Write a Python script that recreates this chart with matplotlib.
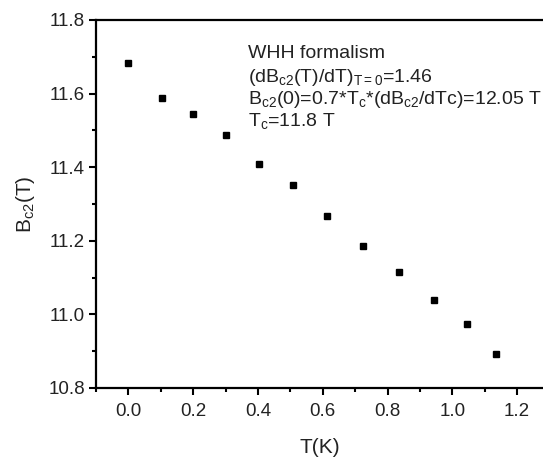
import matplotlib
matplotlib.use("Agg")
import matplotlib.pyplot as plt
from matplotlib.ticker import MultipleLocator

plt.rcParams['font.family'] = ['Liberation Sans', 'DejaVu Sans']
plt.rcParams['mathtext.fontset'] = 'custom'
plt.rcParams['mathtext.rm'] = 'Liberation Sans'
plt.rcParams['mathtext.it'] = 'Liberation Sans'

T_values = [0.0, 0.105, 0.201, 0.300, 0.403, 0.507, 0.613, 0.724, 0.834, 0.944, 1.046, 1.136]
Bc2_values = [11.684, 11.587, 11.544, 11.488, 11.408, 11.352, 11.267, 11.187, 11.115, 11.039, 10.975, 10.892]
x_ticks = [0.0, 0.2, 0.4, 0.6, 0.8, 1.0, 1.2]
y_ticks = [10.8, 11.0, 11.2, 11.4, 11.6, 11.8]

fig = plt.figure(figsize=(5.43, 4.58), dpi=100)
ax = fig.add_axes([96/543, 1-388/458, 1-96/543, (388-20)/458])

ax.plot(T_values, Bc2_values, linestyle='none', marker='s', markersize=5, color='black')

ax.set_xlim(-0.1, 1.28)
ax.set_ylim(10.8, 11.8)
ax.set_xticks(x_ticks)
ax.set_xticklabels([f"{v:.1f}" for v in x_ticks])
ax.set_yticks(y_ticks)
ax.set_yticklabels([f"{v:.1f}" for v in y_ticks])
ax.xaxis.set_minor_locator(MultipleLocator(0.1))
ax.yaxis.set_minor_locator(MultipleLocator(0.1))
ax.tick_params(which='major', direction='out', length=5, width=1.5, labelsize=13.5, colors='black', labelcolor='#222222')
ax.tick_params(which='minor', direction='out', length=3, width=1.5)
ax.tick_params(axis='x', pad=6)
ax.tick_params(axis='y', pad=3)

for s in ['left', 'bottom', 'top']:
    ax.spines[s].set_linewidth(1.6)
ax.spines['right'].set_visible(False)

ax.set_xlabel('T(K)', fontsize=15, color='#222222', labelpad=13)
ax.set_ylabel(r'B$_{\mathrm{c2}}$(T)', fontsize=15, color='#222222', labelpad=8)

lines = [
    'WHH formalism',
    r'(dB$_{\mathrm{c2}}$(T)/dT)$_{\mathrm{T=0}}$=1.46',
    r'B$_{\mathrm{c2}}$(0)=0.7*T$_{\mathrm{c}}$*(dB$_{\mathrm{c2}}$/dTc)=12.05 T',
    r'T$_{\mathrm{c}}$=11.8 T',
]
baselines = [58, 82, 104, 126]
for txt, yb in zip(lines, baselines):
    fig.text(248/543, 1-yb/458, txt, fontsize=14, color='#222222', va='baseline', ha='left')

fig.savefig('out.png', dpi=100)
